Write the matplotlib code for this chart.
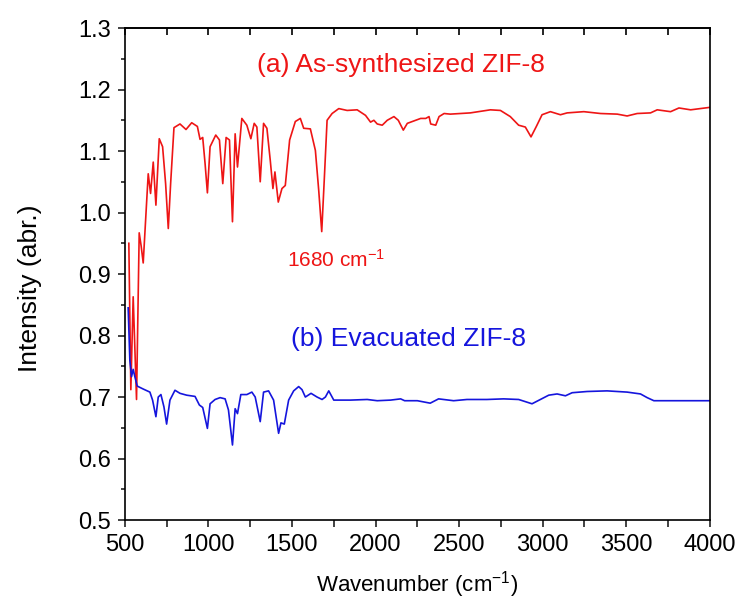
import numpy as np
import matplotlib as mpl
import matplotlib.pyplot as plt


red  = '#ee1515'
blue = '#1515dd'

# (a) as-synthesized ZIF-8
wn_a = [524, 536, 550, 570, 586, 598, 610, 630, 640, 654, 670, 686, 706, 726,
        744, 760, 774, 794, 830, 866, 900, 934, 950, 966, 980, 994, 1010, 1044,
        1066, 1086, 1106, 1126, 1144, 1160, 1174, 1200, 1230, 1254, 1274, 1290,
        1310, 1330, 1350, 1370, 1386, 1398, 1418, 1440, 1460, 1486, 1520, 1550,
        1570, 1610, 1640, 1660, 1678, 1694, 1710, 1740, 1780, 1830, 1890, 1940,
        1970, 1990, 2010, 2040, 2070, 2110, 2136, 2166, 2190, 2230, 2270, 2300,
        2320, 2330, 2360, 2380, 2410, 2447, 2567, 2687, 2747, 2806, 2856, 2896,
        2930, 2962, 2996, 3046, 3106, 3146, 3246, 3346, 3446, 3505, 3565, 3645,
        3685, 3765, 3815, 3885, 4000]
int_a = [0.950, 0.712, 0.863, 0.696, 0.967, 0.945, 0.918, 1.015, 1.063, 1.031,
         1.082, 1.012, 1.120, 1.107, 1.047, 0.974, 1.047, 1.138, 1.144, 1.135,
         1.146, 1.140, 1.119, 1.122, 1.080, 1.032, 1.107, 1.126, 1.118, 1.047,
         1.122, 1.118, 0.985, 1.128, 1.074, 1.153, 1.142, 1.120, 1.145, 1.139,
         1.050, 1.145, 1.137, 1.085, 1.039, 1.066, 1.017, 1.039, 1.044, 1.118,
         1.148, 1.153, 1.137, 1.136, 1.101, 1.036, 0.969, 1.058, 1.150, 1.161,
         1.169, 1.166, 1.167, 1.158, 1.147, 1.150, 1.144, 1.142, 1.150, 1.156,
         1.150, 1.134, 1.145, 1.149, 1.153, 1.153, 1.156, 1.144, 1.142, 1.156,
         1.161, 1.160, 1.162, 1.167, 1.166, 1.156, 1.142, 1.139, 1.123, 1.140,
         1.159, 1.164, 1.159, 1.162, 1.164, 1.161, 1.160, 1.157, 1.161, 1.162,
         1.167, 1.164, 1.170, 1.167, 1.171]

# (b) evacuated ZIF-8
wn_b = [520, 530, 540, 550, 560, 574, 580, 610, 650, 666, 686, 700, 716, 734,
        750, 770, 800, 830, 870, 920, 946, 966, 994, 1010, 1040, 1070, 1100,
        1120, 1144, 1160, 1174, 1194, 1230, 1260, 1280, 1310, 1330, 1360, 1390,
        1420, 1434, 1454, 1480, 1510, 1540, 1560, 1580, 1614, 1650, 1680, 1700,
        1720, 1750, 1850, 1950, 2010, 2090, 2150, 2174, 2250, 2327, 2377, 2467,
        2547, 2666, 2766, 2856, 2936, 2986, 3036, 3086, 3136, 3176, 3266, 3385,
        3505, 3585, 3625, 3665, 3765, 3865, 4000]
int_b = [0.845, 0.760, 0.733, 0.745, 0.733, 0.718, 0.717, 0.713, 0.708, 0.695,
         0.668, 0.700, 0.704, 0.684, 0.656, 0.695, 0.711, 0.706, 0.703, 0.701,
         0.687, 0.683, 0.649, 0.689, 0.696, 0.699, 0.697, 0.679, 0.622, 0.681,
         0.673, 0.704, 0.704, 0.708, 0.700, 0.660, 0.708, 0.710, 0.695, 0.641,
         0.658, 0.656, 0.695, 0.710, 0.717, 0.712, 0.700, 0.706, 0.700, 0.696,
         0.700, 0.710, 0.695, 0.695, 0.696, 0.694, 0.695, 0.697, 0.694, 0.694,
         0.690, 0.697, 0.694, 0.696, 0.696, 0.697, 0.696, 0.689, 0.696, 0.703,
         0.705, 0.702, 0.707, 0.709, 0.710, 0.708, 0.705, 0.699, 0.694, 0.694,
         0.694, 0.694]


mpl.rcParams['font.family'] = ['Liberation Sans', 'DejaVu Sans']
mpl.rcParams['mathtext.fontset'] = 'custom'
mpl.rcParams['mathtext.rm'] = 'Liberation Sans'
mpl.rcParams['mathtext.it'] = 'Liberation Sans'
mpl.rcParams['axes.linewidth'] = 1.2

fig = plt.figure(figsize=(7.43, 6.08), dpi=100)
ax = fig.add_axes([0.168, 0.1447, 0.7874, 0.8092])

ax.plot(wn_a, int_a, color=red, lw=1.2)
ax.plot(wn_b, int_b, color=blue, lw=1.2)

ax.set_xlim(500, 4000)
ax.set_ylim(0.5, 1.3)
ax.set_xticks(np.arange(500, 4001, 500))
ax.set_xticks(np.arange(750, 4000, 500), minor=True)
ax.set_yticks(np.arange(0.5, 1.31, 0.1))
ax.set_yticks(np.arange(0.55, 1.3, 0.1), minor=True)
ax.yaxis.set_major_formatter(mpl.ticker.FormatStrFormatter('%.1f'))
ax.tick_params(which='both', direction='out', labelsize=17, width=1.2,
               colors='#222222', labelcolor='black')
ax.tick_params(which='major', length=5, pad=5)
ax.tick_params(which='minor', length=3)
ax.tick_params(axis='x', which='minor', length=5)

# top ticks point inward, no labels
top = ax.secondary_xaxis('top')
top.set_xticks(np.arange(500, 4001, 250))
top.tick_params(direction='in', length=5, width=1.2, labeltop=False)

ax.set_xlabel('Wavenumber (cm$^{-1}$)', fontsize=16, va='center')
ax.xaxis.set_label_coords(0.5, -0.131)
ax.set_ylabel('Intensity (abr.)', fontsize=19, va='center')
ax.yaxis.set_label_coords(-0.162, 0.472)

ax.text(2150, 1.240, '(a) As-synthesized ZIF-8', color=red, fontsize=19,
        ha='center', va='center')
ax.text(2195, 0.794, '(b) Evacuated ZIF-8', color=blue, fontsize=19,
        ha='center', va='center')
ax.text(1764, 0.912, '1680 cm$^{-1}$', color=red, fontsize=15,
        ha='center', va='baseline')

plt.savefig('out.png')
plt.close()
